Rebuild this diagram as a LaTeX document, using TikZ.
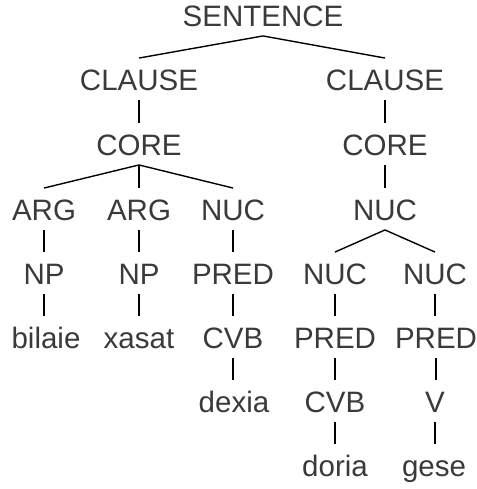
\documentclass[tikz,border=0pt]{standalone}
\usepackage{fontspec}
\setmainfont{Liberation Sans}
\usetikzlibrary{calc}
\definecolor{txt}{HTML}{3A3A3A}
\tikzset{
  lab/.style={inner sep=0pt, text height=21.5pt, text depth=0pt, text=txt,
              font=\fontsize{29.5}{34}\selectfont},
  edge/.style={line width=1.4pt, black}
}
% branching link (diagonal allowed)
\newcommand{\br}[2]{\draw[edge] ($(#1.south)+(0,9)$) -- ($(#2.north)+(0,-11)$);}
% vertical link, straight down from the parent
\newcommand{\vl}[2]{\draw[edge] ($(#1.south)+(0,9)$) -- ($(#1.south |- #2.north)+(0,-11)$);}
\begin{document}
\begin{tikzpicture}[x=1pt,y=-1pt]
\useasboundingbox (0,0) rectangle (476,489);
% row 0
\node[lab] (s) at (263,16) {SENTENCE};
% row 1
\node[lab] (cl1) at (139,80) {CLAUSE};
\node[lab] (cl2) at (385,80) {CLAUSE};
% row 2
\node[lab] (co1) at (139,145) {CORE};
\node[lab] (co2) at (385,145) {CORE};
% row 3
\node[lab] (arg1) at (44,210) {ARG};
\node[lab] (arg2) at (139,210) {ARG};
\node[lab] (nuc1) at (233,210) {NUC};
\node[lab] (nuc2) at (385,210) {NUC};
% row 4
\node[lab] (np1) at (44,274) {NP};
\node[lab] (np2) at (139,274) {NP};
\node[lab] (pred1) at (233,274) {PRED};
\node[lab] (nuc3) at (335,274) {NUC};
\node[lab] (nuc4) at (435,274) {NUC};
% row 5
\node[lab] (w1) at (46,338) {bilaie};
\node[lab] (w2) at (139,338) {xasat};
\node[lab] (cvb1) at (233,338) {CVB};
\node[lab] (pred2) at (335,338) {PRED};
\node[lab] (pred3) at (436,338) {PRED};
% row 6
\node[lab] (w3) at (234,402) {dexia};
\node[lab] (cvb2) at (335,402) {CVB};
\node[lab] (v) at (435,402) {V};
% row 7
\node[lab] (w4) at (335,466) {doria};
\node[lab] (w5) at (434,466) {gese};
% edges
\br{s}{cl1} \br{s}{cl2}
\vl{cl1}{co1} \vl{cl2}{co2}
\br{co1}{arg1} \vl{co1}{arg2} \br{co1}{nuc1}
\vl{co2}{nuc2}
\vl{arg1}{np1} \vl{arg2}{np2} \vl{nuc1}{pred1}
\br{nuc2}{nuc3} \br{nuc2}{nuc4}
\vl{np1}{w1} \vl{np2}{w2} \vl{pred1}{cvb1}
\vl{nuc3}{pred2} \vl{nuc4}{pred3}
\vl{cvb1}{w3} \vl{pred2}{cvb2} \vl{pred3}{v}
\vl{cvb2}{w4} \vl{v}{w5}
\end{tikzpicture}
\end{document}
